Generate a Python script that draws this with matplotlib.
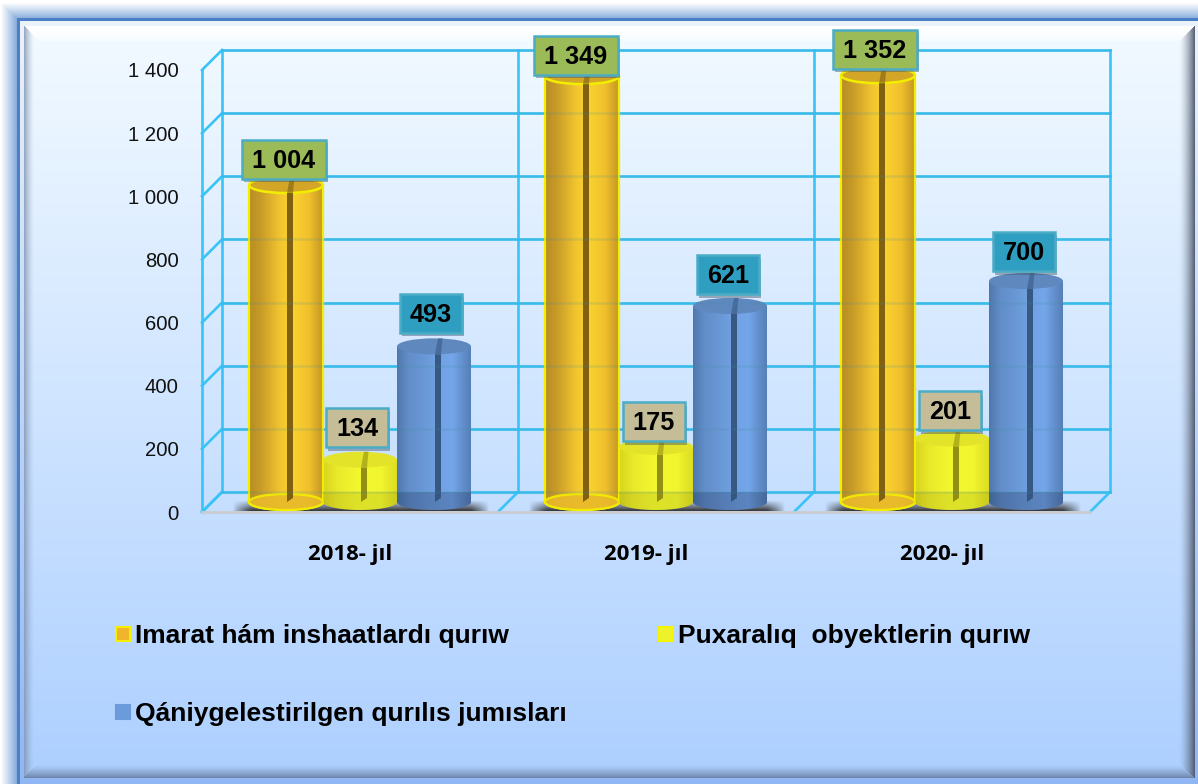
import numpy as np
import matplotlib
matplotlib.use("Agg")
import matplotlib.pyplot as plt
from matplotlib.patches import Ellipse, Polygon, Rectangle
from matplotlib.transforms import Affine2D
import matplotlib.patheffects as pe
from matplotlib.colors import to_rgb

# ---------- data ----------
categories = ["2018- jıl", "2019- jıl", "2020- jıl"]
series_names = ["Imarat hám inshaatlardı qurıw",
                "Puxaralıq  obyektlerin qurıw",
                "Qániygelestirilgen qurılıs jumısları"]
imarat = [1004, 1349, 1352]
puxaraliq = [134, 175, 201]
qaniygelestirilgen = [493, 621, 700]
series_values = [imarat, puxaraliq, qaniygelestirilgen]
y_ticks = [0, 200, 400, 600, 800, 1000, 1200, 1400]
y_tick_labels = ["0", "200", "400", "600", "800", "1 000", "1 200", "1 400"]
value_labels = [["1 004", "1 349", "1 352"], ["134", "175", "201"], ["493", "621", "700"]]

# ---------- styles ----------
W, H = 1198, 784
plt.rcParams["font.family"] = ["Liberation Sans", "DejaVu Sans"]
GRID = "#38c4f7"
body_stops = [
    [(0.0, "#b68c24"), (0.15, "#c89a28"), (0.42, "#f2c52f"), (0.58, "#fbd22f"), (0.82, "#f0c02c"), (1.0, "#c49626")],
    [(0.0, "#d8d420"), (0.2, "#eaea2a"), (0.5, "#f3f930"), (0.8, "#f0f52e"), (1.0, "#dcdc22")],
    [(0.0, "#4f78ad"), (0.15, "#618dc8"), (0.5, "#6f9fdf"), (0.75, "#74a6ea"), (1.0, "#557fb7")],
]
top_colors = ["#d3a628", "#e3e32a", "#5f88bf"]
bottom_colors = ["#e8b92a", "#dfe01f", "#4f78ad"]
edge_colors = ["#f2ee00", "none", "none"]
groove_colors = ["#7a5a10", "#8e8a10", "#35547f"]
box_colors = ["#9bbb59", "#c4bd97", "#2f9fc1"]
box_edge = "#4bacc6"
label_dy_px = [[26, 21, 26], [32, 25, 28], [33, 31, 29]]   # label offset above the bar top
label_dx_px = [[-2, -6, -3], [-3, -2, -2], [-3, -2, -2]]
legend_colors = ["#f0b52d", "#eef22a", "#6c9bdc"]
legend_edges = ["#f5f000", "#f5f500", "#6c9bdc"]

fig = plt.figure(figsize=(W / 100, H / 100), dpi=100)

# ---------- background frame (pixel space) ----------
bg = fig.add_axes([0, 0, 1, 1], zorder=-5)
bg.axis("off")
yy, xx = np.mgrid[0:H, 0:W].astype(float)
def lerp(c0, c1, t):
    return np.array(to_rgb(c0))[None, None, :] * (1 - t[..., None]) + np.array(to_rgb(c1))[None, None, :] * t[..., None]
tv = np.clip((yy - 30) / (765 - 30), 0, 1)
img = lerp("#f2faff", "#aed0ff", tv)
def blend(img, col, a):
    return img * (1 - a[..., None]) + np.array(to_rgb(col))[None, None, :] * a[..., None]
dl, dt, dr, db = xx - 24, yy - 26, 1194 - xx, 777 - yy
dmin = np.minimum.reduce([dl, dt, dr, db])
a = np.where((dt == dmin), np.clip(1 - dt / 15, 0, 1) ** 0.45, 0)
img = blend(img, "#ffffff", a)
a = np.where((dl == dmin), np.clip(1 - dl / 10, 0, 1) ** 1.5 * 0.75, 0)
img = blend(img, "#7d8fae", a)
a = np.where((dr == dmin), np.clip(1 - dr / 16, 0, 1) ** 1.6 * 0.9, 0)
img = blend(img, "#4a5468", a)
a = np.where((db == dmin), np.clip(1 - db / 13, 0, 1) ** 1.3 * 0.75, 0)
img = blend(img, "#5d7093", a)
outside = (dmin < 0)
strip = lerp("#eef5fb", "#90b6f4", np.clip(yy / 784, 0, 1))
img[outside] = strip[outside]
line = (np.minimum(xx - 17, yy - 18) >= 0) & (np.minimum(xx - 17, yy - 18) < 2.5)
img[line] = np.array(to_rgb("#4c80c6"))
dout = np.minimum(xx - 0, yy - 2)
glow = lerp("#ffffff", "#7fa7da", np.clip(dout / 17, 0, 1) ** 1.1)
m = (xx < 17) | (yy < 18)
img[m] = glow[m]
bg.imshow(img, extent=(0, W, H, 0), aspect="auto", interpolation="bilinear")
bg.set_xlim(0, W)
bg.set_ylim(H, 0)

# ---------- main axes = front plane of the pseudo-3D box ----------
ax = fig.add_axes([202 / W, 1 - 512 / H, (1090 - 202) / W, (512 - 70) / H], zorder=1)
ax.patch.set_alpha(0)
for s in ax.spines.values():
    s.set_visible(False)
back = ax.transData + Affine2D().translate(20, 20)
mid = ax.transData + Affine2D().translate(10, 10)

n = len(categories)
ax.set_xlim(-0.5, n - 0.5)
ax.set_ylim(0, 1400)
ax.set_xticks(range(n))
ax.set_xticklabels(categories, family="Open Sans", fontweight="bold", fontsize=16)
ax.set_yticks(y_ticks)
ax.set_yticklabels(y_tick_labels, fontsize=14.6, color="#111111")
ax.tick_params(axis="x", length=0, pad=23)
ax.tick_params(axis="y", length=0, pad=17)

# walls and floor
for v in y_ticks:
    ax.plot([-0.5, n - 0.5], [v, v], color=GRID, lw=1.9, transform=back, clip_on=False, zorder=1)
    p0 = ax.transData.transform((-0.5, v))
    ax.add_line(plt.Line2D([p0[0], p0[0] + 20], [p0[1], p0[1] + 20], color=GRID, lw=1.9,
                           transform=None, zorder=1, clip_on=False))
for i in range(n + 1):
    ax.plot([i - 0.5, i - 0.5], [0, 1400], color=GRID, lw=1.9, transform=back, clip_on=False, zorder=1)
    p0 = ax.transData.transform((i - 0.5, 0))
    ax.add_line(plt.Line2D([p0[0], p0[0] + 20], [p0[1], p0[1] + 20], color=GRID, lw=1.9,
                           transform=None, zorder=1, clip_on=False))
ax.plot([-0.5, -0.5], [0, 1400], color=GRID, lw=1.9, clip_on=False, zorder=1)
ax.plot([-0.5, n - 0.5], [0, 0], color="#c9cdd2", lw=2, clip_on=False, zorder=1.5)

# floor shadows
for i in range(n):
    sh = np.zeros((20, 120, 4))
    sx = np.linspace(0, 1, 120)
    ramp = np.clip(sx / 0.07, 0, 1) ** 0.8 * np.clip((1 - sx) / 0.07, 0, 1) ** 0.8
    vert = np.linspace(0.1, 1, 20)[:, None]
    sh[..., :3] = 0.18
    sh[..., 3] = 0.95 * ramp[None, :] * vert
    ax.imshow(sh, extent=(i - 0.40, i + 0.47, 2, 32), aspect="auto", zorder=2,
              interpolation="bilinear", origin="upper")
ax.set_xlim(-0.5, n - 0.5)
ax.set_ylim(0, 1400)

# cylinders
bar_w = 0.25
px_v = 1400 / 442
ell_h = 16 * px_v
offsets = [-0.25, 0, 0.25]
px_x = n / (1090 - 202)
for k, (vals, off) in enumerate(zip(series_values, offsets)):
    ax.bar(np.arange(n) + off, vals, width=bar_w, color=bottom_colors[k], zorder=3,
           transform=mid, clip_on=False, linewidth=0)
    stops = body_stops[k]
    grad = np.array([[np.interp(t, [s[0] for s in stops], [to_rgb(s[1])[c] for s in stops]) for c in range(3)]
                     for t in np.linspace(0, 1, 128)])[None, :, :]
    for i, v in enumerate(vals):
        c = i + off
        x0, x1 = c - bar_w / 2, c + bar_w / 2
        th = np.linspace(np.pi, 2 * np.pi, 50)
        arc = [(c + bar_w / 2 * np.cos(t), ell_h / 2 * np.sin(t)) for t in th]
        outline = [(x0, v)] + arc + [(x1, v)]
        ax.add_patch(Polygon(outline, closed=True, facecolor="none", edgecolor=edge_colors[k], lw=1.6,
                             transform=mid, zorder=5, clip_on=False))
        im = ax.imshow(grad, extent=(x0, x1, -ell_h / 2, v), aspect="auto", zorder=4, transform=mid,
                       interpolation="bilinear", clip_on=True)
        im.set_clip_path(Polygon(outline, closed=True, transform=mid))
        if k == 0:
            # translucent floor of the cylinder
            ax.add_patch(Ellipse((c, 0), bar_w, ell_h, facecolor=bottom_colors[k], edgecolor=edge_colors[k],
                                 lw=1.6, alpha=0.9, transform=mid, zorder=5, clip_on=False))
        else:
            # darker band below the back floor line
            band = [(x0, 10 * px_v)] + arc + [(x1, 10 * px_v)]
            ax.add_patch(Polygon(band, closed=True, facecolor="#555500" if k == 1 else "#1c2f55",
                                 edgecolor="none", alpha=0.13 if k == 1 else 0.28,
                                 transform=mid, zorder=5, clip_on=False))
        # lid
        ax.add_patch(Ellipse((c, v), bar_w, ell_h, facecolor=top_colors[k], edgecolor=edge_colors[k],
                             lw=1.8, transform=mid, zorder=6, clip_on=False))
        # groove
        g0, g1 = c + 1 * px_x, c + 7 * px_x
        ax.add_patch(Polygon([(g0, v - ell_h / 2), (g1, v - ell_h / 2), (g1, 4 * px_v), (g0, 0)],
                             closed=True, facecolor=groove_colors[k], edgecolor="none", alpha=0.95,
                             transform=mid, zorder=7, clip_on=False))
        ax.add_patch(Polygon([(g0, v - ell_h / 2), (g1, v - ell_h / 2), (g1 + 1.5 * px_x, v + ell_h / 2),
                              (g1 - 3 * px_x, v + ell_h / 2)],
                             closed=True, facecolor=groove_colors[k], edgecolor="none", alpha=0.55,
                             transform=mid, zorder=7, clip_on=False))

# gridlines faintly visible through the cylinders
for v in y_ticks:
    ax.plot([-0.5, n - 0.5], [v, v], color="#3f8fa0", lw=1.8, alpha=0.16, transform=back,
            clip_on=False, zorder=8)

# value labels
for k, (vals, off) in enumerate(zip(series_values, offsets)):
    for i, v in enumerate(vals):
        pos = mid.transform((i + off, v))
        cx, cy = pos[0] + label_dx_px[k][i], pos[1] + label_dy_px[k][i]
        bw = 84 if len(value_labels[k][i]) > 3 else 62
        bh = 39
        box = Rectangle((cx - bw / 2, cy - bh / 2), bw, bh, transform=None, facecolor=box_colors[k],
                        edgecolor=box_edge, lw=1.8, zorder=9, clip_on=False)
        box.set_path_effects([pe.SimplePatchShadow(offset=(1.5, -2.5), shadow_rgbFace="#445566", alpha=0.45),
                              pe.Normal()])
        ax.add_patch(box)
        ax.text(cx, cy - 8.5, value_labels[k][i], transform=None, ha="center", va="baseline",
                fontsize=18.2, fontweight="bold", color="black", zorder=10)

# legend (pixel placement on the background layer)
legend_pos = [(135, 643), (678, 643), (135, 721)]
for name, (lx, ly), fc, ec in zip(series_names, legend_pos, legend_colors, legend_edges):
    bg.add_patch(Rectangle((lx - 19.5, ly - 16), 14, 14, facecolor=fc, edgecolor=ec, lw=1.5))
    bg.text(lx, ly, name, fontsize=19, fontweight="bold", color="black", ha="left", va="baseline")

fig.savefig("out.png", dpi=100)
